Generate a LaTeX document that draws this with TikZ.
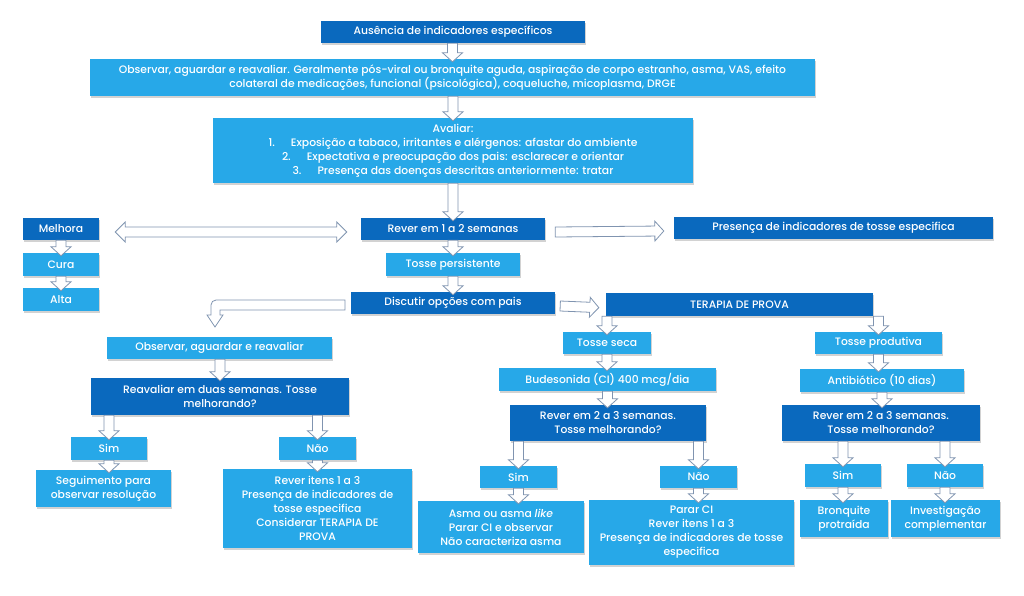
\documentclass[tikz,border=0pt]{standalone}
\usepackage{fontspec}
\setmainfont{Poppins}[UprightFont=* Medium,ItalicFont=* Medium Italic]
\usetikzlibrary{calc,shadows}
\definecolor{darkblue}{RGB}{10,105,190}
\definecolor{lightblue}{RGB}{39,168,232}
\definecolor{arrowgray}{RGB}{128,148,176}

\begin{document}
\begin{tikzpicture}
  [x=1pt,y=-1pt,
   box/.style={text=white,font=\fontsize{10.8}{14}\selectfont,align=center,inner sep=1pt,
     drop shadow={opacity=.35,shadow xshift=1pt,shadow yshift=-1.5pt}},
   darkbox/.style={box,fill=darkblue},
   lightbox/.style={box,fill=lightblue},
   arrowline/.style={draw=arrowgray,fill=white,line width=.8pt},
   fat/.style={arrowline,to path={
     ($(\tikztostart)!5pt!90:(\tikztotarget)$)
     -- ($(\tikztotarget)!-3pt!(\tikztostart)!9pt!(\tikztostart)!5pt!90:(\tikztotarget)$)
     -- ($(\tikztotarget)!-3pt!(\tikztostart)!9pt!(\tikztostart)!10pt!90:(\tikztotarget)$)
     -- ($(\tikztotarget)!-3pt!(\tikztostart)$)
     -- ($(\tikztotarget)!-3pt!(\tikztostart)!9pt!(\tikztostart)!10pt!-90:(\tikztotarget)$)
     -- ($(\tikztotarget)!-3pt!(\tikztostart)!9pt!(\tikztostart)!5pt!-90:(\tikztotarget)$)
     -- ($(\tikztostart)!5pt!-90:(\tikztotarget)$)
     -- cycle}},
   fatboth/.style={arrowline,to path={
     (\tikztostart)
     -- ($(\tikztostart)!10pt!(\tikztotarget)!10pt!90:(\tikztotarget)$)
     -- ($(\tikztostart)!10pt!(\tikztotarget)!5pt!90:(\tikztotarget)$)
     -- ($(\tikztotarget)!10pt!(\tikztostart)!5pt!90:(\tikztotarget)$)
     -- ($(\tikztotarget)!10pt!(\tikztostart)!10pt!90:(\tikztotarget)$)
     -- (\tikztotarget)
     -- ($(\tikztotarget)!10pt!(\tikztostart)!10pt!-90:(\tikztotarget)$)
     -- ($(\tikztotarget)!10pt!(\tikztostart)!5pt!-90:(\tikztotarget)$)
     -- ($(\tikztostart)!10pt!(\tikztotarget)!5pt!-90:(\tikztotarget)$)
     -- ($(\tikztostart)!10pt!(\tikztotarget)!10pt!-90:(\tikztotarget)$)
     -- cycle}}]
  \useasboundingbox (0,0) rectangle (1024,595);
  \fill[white] (0,0) rectangle (1024,595);

  % top part
  \node[darkbox,minimum width=264,minimum height=22] (aus) at (453,32) {Ausência de indicadores específicos};
  \node[lightbox,minimum width=725,minimum height=37] (obs1) at (452.5,77.5) {Observar, aguardar e reavaliar. Geralmente pós-viral ou bronquite aguda, aspiração de corpo estranho, asma, VAS, efeito\\colateral de medicações, funcional (psicológica), coqueluche, micoplasma, DRGE};
  \node[lightbox,minimum width=480,minimum height=65] (aval) at (453,150.5) {Avaliar:\\1.\hspace{16pt}Exposição a tabaco, irritantes e alérgenos: afastar do ambiente\\2.\hspace{16pt}Expectativa e preocupação dos pais: esclarecer e orientar\\3.\hspace{16pt}Presença das doenças descritas anteriormente: tratar};
  \node[darkbox,minimum width=184,minimum height=22] (rev12) at (453,229) {Rever em 1 a 2 semanas};
  \node[lightbox,minimum width=134,minimum height=23] (tper) at (453,264.5) {Tosse persistente};
  \node[darkbox,minimum width=204,minimum height=22] (disc) at (453,303) {Discutir opções com pais};
  \node[darkbox,minimum width=76,minimum height=22] (melh) at (61,229) {Melhora};
  \node[lightbox,minimum width=76,minimum height=23] (cura) at (61,264.5) {Cura};
  \node[lightbox,minimum width=76,minimum height=23] (alta) at (61,299.5) {Alta};
  \node[darkbox,minimum width=319,minimum height=22] (pres) at (833.5,228) {Presença de indicadores de tosse especifica};
  \node[darkbox,minimum width=267,minimum height=23] (ter) at (739.5,304.5) {TERAPIA DE PROVA};

  % left branch
  \node[lightbox,minimum width=225,minimum height=22] (obs2) at (219.5,348) {Observar, aguardar e reavaliar};
  \node[darkbox,minimum width=258,minimum height=37] (reav) at (220,396.5) {Reavaliar em duas semanas. Tosse\\melhorando?};
  \node[lightbox,minimum width=76,minimum height=23] (sim1) at (109,448.5) {Sim};
  \node[lightbox,minimum width=77,minimum height=23] (nao1) at (317.5,448.5) {Não};
  \node[lightbox,minimum width=135,minimum height=37] (seg) at (103.5,488.5) {Seguimento para\\observar resolução};
  \node[lightbox,minimum width=189,minimum height=79] (revit) at (317.5,508.5) {Rever itens 1 a 3\\Presença de indicadores de\\tosse especifica\\Considerar TERAPIA DE\\PROVA};

  % trial therapy
  \node[lightbox,minimum width=88,minimum height=22] (tseca) at (607,343) {Tosse seca};
  \node[lightbox,minimum width=127,minimum height=22] (tprod) at (878.5,343) {Tosse produtiva};
  \node[lightbox,minimum width=217,minimum height=23] (bud) at (607.5,379.5) {Budesonida (CI) 400 mcg/dia};
  \node[lightbox,minimum width=164,minimum height=23] (antib) at (882,380.5) {Antibiótico (10 dias)};
  \node[darkbox,minimum width=196,minimum height=36] (rev23a) at (608,423) {Rever em 2 a 3 semanas.\\Tosse melhorando?};
  \node[darkbox,minimum width=198,minimum height=36] (rev23b) at (881,423) {Rever em 2 a 3 semanas.\\Tosse melhorando?};
  \node[lightbox,minimum width=77,minimum height=22] (sim2) at (518.5,477) {Sim};
  \node[lightbox,minimum width=77,minimum height=22] (nao2) at (698.5,477) {Não};
  \node[lightbox,minimum width=76,minimum height=23] (sim3) at (843,475.5) {Sim};
  \node[lightbox,minimum width=76,minimum height=23] (nao3) at (945,475.5) {Não};
  \node[lightbox,minimum width=166,minimum height=52] (asma) at (501,527) {Asma ou asma \textit{like}\\Parar CI e observar\\Não caracteriza asma};
  \node[lightbox,minimum width=205,minimum height=65] (parar) at (691.5,532.5) {Parar CI\\Rever itens 1 a 3\\Presença de indicadores de tosse\\especifica};
  \node[lightbox,minimum width=88,minimum height=37] (bronq) at (844,518.5) {Bronquite\\protraída};
  \node[lightbox,minimum width=109,minimum height=37] (inv) at (945.5,518.5) {Investigação\\complementar};

  % arrows
  \foreach \from/\to in {aus/obs1,obs1/aval,aval/rev12,rev12/tper,tper/disc,melh/cura,cura/alta,
      obs2/reav,reav/sim1,reav/nao1,ter/tseca,ter/tprod,rev23a/sim2,rev23a/nao2,rev23b/sim3,rev23b/nao3}
    \draw[fat] (\from.south -| \to) to (\to.north);
  \foreach \from/\to in {sim1/seg,nao1/revit,tseca/bud,tprod/antib,bud/rev23a,antib/rev23b,
      sim2/asma,nao2/parar,sim3/bronq,nao3/inv}
    \draw[fat] (\from.south) to (\from.south |- \to.north);

  \draw[fatboth] ([xshift=16pt,yshift=-3pt]melh.east) to ([xshift=-14pt,yshift=-3pt]rev12.west);
  \draw[fat] ([xshift=10pt,yshift=-3pt]rev12.east) to ([xshift=-13pt,yshift=-3pt]pres.west);
  \draw[fat] ([xshift=5pt,yshift=-3pt]disc.east) to ([xshift=-10pt,yshift=-3pt]ter.west);

  \coordinate (bendstart) at (345,305);
  \coordinate (bendtip) at (215,327);
  \draw[arrowline] let \p1=(bendstart), \p2=(bendtip) in
    (\x1,\y1+5pt) -- (\x2+1pt,\y1+5pt) to[out=180,in=90] (\x2-4pt,\y1)
    -- (\x2-4pt,\y2+12pt) -- (\x2-8pt,\y2+12pt) -- (\x2,\y2) -- (\x2+8pt,\y2+12pt)
    -- (\x2+5pt,\y2+12pt) -- (\x2+5pt,\y1-5pt) -- (\x1,\y1-5pt) -- cycle;
\end{tikzpicture}
\end{document}
